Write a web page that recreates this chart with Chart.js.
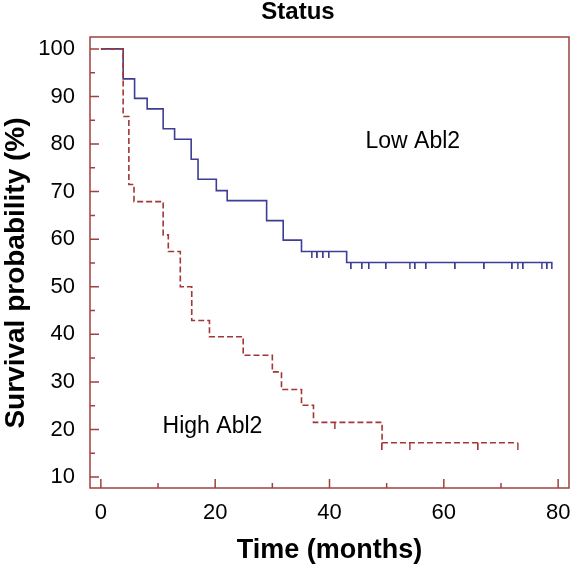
<!DOCTYPE html>
<html>
<head>
<meta charset="utf-8">
<script src="https://cdn.jsdelivr.net/npm/chart.js@4/dist/chart.umd.min.js"></script>
<style>
  body { margin: 0; background: #fff; }
  canvas { display: block; }
</style>
</head>
<body>
<canvas id="km" width="573" height="567"></canvas>
<script>
// Kaplan-Meier steps (time in months, survival in %)
const lowTimes = [0, 3.9, 5.9, 8.1, 10.9, 12.9, 15.8, 17.0, 20.2, 22.1, 29.0, 31.9, 35.1, 43.0, 79.0];
const lowSurv = [100, 93.7, 89.6, 87.4, 83.2, 81.0, 76.8, 72.6, 70.2, 68.1, 63.9, 59.8, 57.4, 55.1, 55.1];
const lowCensor = [36.9, 37.9, 38.9, 39.9, 43.8, 45.7, 46.9, 49.9, 54.0, 55.0, 56.9, 62.0, 67.1, 72.0, 72.9, 73.9, 77.1, 78.1, 78.9];

const highTimes = [0, 3.9, 4.9, 5.8, 10.9, 11.8, 13.9, 15.9, 19.0, 24.9, 30.0, 31.6, 35.1, 37.2, 49.2, 72.9];
const highSurv = [100, 85.8, 71.5, 67.9, 60.9, 57.4, 50.0, 42.9, 39.5, 35.6, 32.1, 28.4, 25.1, 21.5, 17.2, 17.2];
const highCensor = [40.9, 49.2, 54.0, 66.0, 72.9];

const xTicks = [0, 20, 40, 60, 80];
const yTicks = [10, 20, 30, 40, 50, 60, 70, 80, 90, 100];
const xTickMarks = [0, 10, 20, 30, 40, 50, 60, 70, 80];
const yTickMarks = [10, 15, 20, 25, 30, 35, 40, 45, 50, 55, 60, 65, 70, 75, 80, 85, 90, 95, 100];

const lowColor = "#3d3d96";
const highColor = "#a33636";
const frameColor = "#a0403f";
const fontFamily = "'Liberation Sans', Arial, sans-serif";

function survAt(times, surv, t) {
  let s = surv[0];
  for (let i = 0; i < times.length; i++) {
    if (times[i] <= t) s = surv[i];
  }
  return s;
}

// censor tick: a short vertical stroke hanging below the point
function censorMark(color, len) {
  const c = document.createElement("canvas");
  c.width = 2;
  c.height = len * 2;
  const g = c.getContext("2d");
  g.fillStyle = color;
  g.fillRect(0, len, 1.6, len);
  return c;
}

function toPoints(times, surv) {
  return times.map((t, i) => ({ x: t, y: surv[i] }));
}

const frameAndTicks = {
  id: "frameAndTicks",
  afterDatasetsDraw(chart) {
    const { ctx, chartArea: a, scales: { x, y } } = chart;
    ctx.save();
    ctx.strokeStyle = frameColor;
    ctx.lineWidth = 1.5;
    ctx.strokeRect(a.left, a.top, a.right - a.left, a.bottom - a.top);
    ctx.beginPath();
    yTickMarks.forEach(v => {
      const py = y.getPixelForValue(v);
      const len = v % 10 === 0 ? 9 : 5;
      ctx.moveTo(a.left, py);
      ctx.lineTo(a.left + len, py);
    });
    xTickMarks.forEach(v => {
      const px = x.getPixelForValue(v);
      const len = v % 20 === 0 ? 9 : 5;
      ctx.moveTo(px, a.bottom);
      ctx.lineTo(px, a.bottom - len);
    });
    ctx.stroke();
    // x tick labels (drawn here so the last label does not shrink the plot)
    ctx.fillStyle = "#000";
    ctx.font = "22px " + fontFamily;
    ctx.textAlign = "center";
    ctx.textBaseline = "middle";
    x.ticks.forEach(t => {
      ctx.fillText(String(t.value), x.getPixelForValue(t.value), a.bottom + 25);
    });
    ctx.restore();
  }
};

const textLabels = {
  id: "textLabels",
  afterDraw(chart) {
    const { ctx, scales: { x, y } } = chart;
    ctx.save();
    ctx.fillStyle = "#000";
    ctx.textBaseline = "middle";
    ctx.textAlign = "center";
    ctx.font = "bold 24px " + fontFamily;
    ctx.fillText("Status", 298, 12);
    // y axis title
    ctx.save();
    ctx.translate(16, 273);
    ctx.rotate(-Math.PI / 2);
    ctx.font = "bold 28px " + fontFamily;
    ctx.fillText("Survival probability (%)", 0, 0);
    ctx.restore();
    ctx.textAlign = "left";
    ctx.font = "23px " + fontFamily;
    ctx.fillText("Low Abl2", x.getPixelForValue(46.3), y.getPixelForValue(80.4));
    ctx.fillText("High Abl2", x.getPixelForValue(10.8), y.getPixelForValue(20.5));
    ctx.restore();
  }
};

new Chart(document.getElementById("km"), {
  type: "scatter",
  data: {
    datasets: [
      {
        label: "High Abl2",
        data: toPoints(highTimes, highSurv),
        showLine: true,
        stepped: true,
        borderColor: highColor,
        borderWidth: 1.6,
        borderDash: [6, 3],
        pointRadius: 0,
        pointBorderWidth: 0
      },
      {
        label: "High Abl2 censored",
        data: highCensor.map(t => ({ x: t, y: survAt(highTimes, highSurv, t) })),
        showLine: false,
        pointStyle: censorMark(highColor, 7),
        pointRadius: 1,
        pointBorderWidth: 0
      },
      {
        label: "Low Abl2",
        data: toPoints(lowTimes, lowSurv),
        showLine: true,
        stepped: true,
        borderColor: lowColor,
        borderWidth: 1.6,
        pointRadius: 0,
        pointBorderWidth: 0
      },
      {
        label: "Low Abl2 censored",
        data: lowCensor.map(t => ({ x: t, y: survAt(lowTimes, lowSurv, t) })),
        showLine: false,
        pointStyle: censorMark(lowColor, 6),
        pointRadius: 1,
        pointBorderWidth: 0
      }
    ]
  },
  options: {
    responsive: false,
    animation: false,
    layout: { padding: { top: 37, right: 2, left: 0, bottom: 0 } },
    plugins: {
      legend: { display: false },
      tooltip: { enabled: false }
    },
    scales: {
      x: {
        type: "linear",
        min: -1.9,
        max: 81.9,
        afterBuildTicks: s => { s.ticks = xTicks.map(v => ({ value: v })); },
        afterFit: s => { s.height = 79; },
        grid: { display: false, drawTicks: false },
        border: { display: false },
        ticks: { display: false },
        title: {
          display: true,
          text: "Time (months)",
          color: "#000",
          padding: { top: 0, bottom: 0 },
          font: { family: fontFamily, size: 27, weight: "bold" }
        }
      },
      y: {
        type: "linear",
        min: 7.7,
        max: 102.5,
        afterBuildTicks: s => { s.ticks = yTicks.map(v => ({ value: v })); },
        afterFit: s => { s.width = 90; },
        grid: { display: false, drawTicks: false },
        border: { display: false },
        ticks: { color: "#000", padding: 15, font: { family: fontFamily, size: 22 } }
      }
    }
  },
  plugins: [frameAndTicks, textLabels]
});
</script>
</body>
</html>
